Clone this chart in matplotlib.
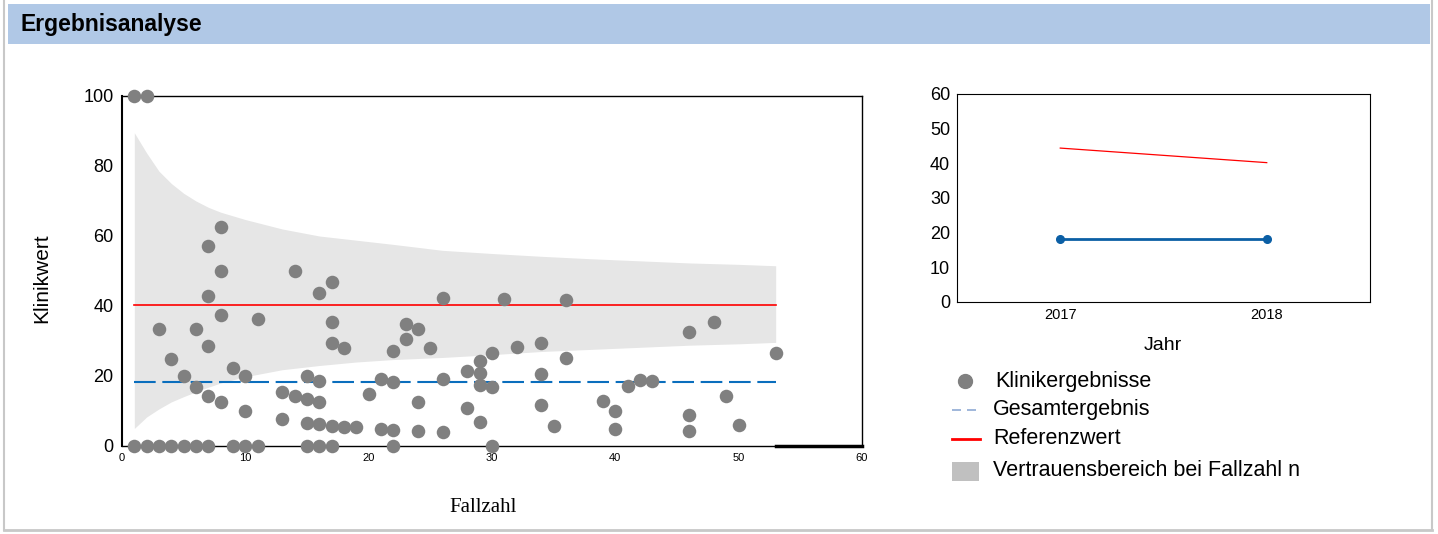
import matplotlib.pyplot as plt
from matplotlib.patches import Rectangle
from matplotlib.lines import Line2D

plt.rcParams['font.family'] = ['Liberation Sans', 'DejaVu Sans']

# Klinikergebnisse (Fallzahl, Klinikwert)
fallzahl = [1, 1, 2, 2, 3, 3, 4, 4, 5, 5, 6, 6, 6,
            7, 7, 7, 7, 7, 8, 8, 8, 8, 9, 9, 10, 10, 10, 11, 11,
            13, 13, 14, 14, 15, 15, 15, 15, 16, 16, 16, 16, 16,
            17, 17, 17, 17, 17, 18, 18, 19, 20, 21, 21, 22, 22, 22, 22,
            23, 23, 24, 24, 24, 25, 26, 26, 26, 28, 28, 29, 29, 29, 29,
            30, 30, 30, 31, 32, 34, 34, 34, 35, 36, 36, 39, 40, 40, 41,
            42, 43, 46, 46, 46, 48, 49, 50, 53]
klinikwert = [100, 0, 100, 0, 33.3, 0, 25.0, 0, 20.1, 0, 33.3, 16.8, 0,
              57.1, 42.9, 28.7, 14.4, 0, 62.5, 50.0, 37.4, 12.6, 22.4, 0, 20.1, 10.1, 0, 36.4, 0,
              15.3, 7.7, 50.0, 14.3, 20.1, 13.4, 6.7, 0, 43.8, 18.7, 12.6, 6.2, 0,
              47.0, 35.3, 29.4, 5.8, 0, 27.9, 5.5, 5.3, 15.0, 19.1, 4.8, 27.2, 18.2, 4.5, 0,
              34.8, 30.5, 33.3, 12.5, 4.3, 28.1, 42.3, 19.2, 3.9, 21.5, 10.8, 24.4, 20.8, 17.3, 7.0,
              26.7, 16.8, 0, 41.9, 28.2, 29.5, 20.6, 11.8, 5.8, 41.7, 25.1, 12.8, 10.0, 5.0, 17.1,
              19.0, 18.6, 32.7, 8.8, 4.4, 35.5, 14.4, 6.1, 26.5]

# Vertrauensbereich bei Fallzahl n
band_n = [1, 2, 3, 4, 5, 6, 7, 8, 10, 13, 16, 19, 22, 26, 30, 34, 38, 42, 46, 50, 53]
band_unten = [5.0, 8.3, 10.6, 12.6, 14.1, 15.5, 16.8, 18.0, 19.8, 21.8, 23.0,
              24.0, 24.7, 25.3, 26.1, 27.0, 27.6, 28.2, 28.8, 29.2, 29.6]
band_oben = [89.5, 83.7, 78.5, 75.0, 72.2, 70.0, 68.2, 66.8, 64.7, 62.0, 60.0,
             58.8, 57.6, 55.9, 55.0, 54.2, 53.5, 52.9, 52.3, 51.9, 51.5]

gesamtergebnis = 18.3
referenzwert = 40.3

# Verlauf
jahre = [2017, 2018]
gesamt_jahr = [18.2, 18.2]
referenz_jahr = [44.4, 40.2]

W, H = 1438, 534
fig = plt.figure(figsize=(W / 100, H / 100), dpi=100)


def fx(px):
    return px / W


def fy(py):
    return 1 - py / H


# Rahmen und Kopfzeile
rand = '#c8c8c8'
fig.add_artist(Line2D([fx(4), fx(4)], [fy(0), fy(530)], color=rand, lw=1.5))
fig.add_artist(Line2D([fx(1432), fx(1432)], [fy(0), fy(530)], color=rand, lw=1.5))
fig.add_artist(Line2D([fx(4), fx(1432)], [fy(530), fy(530)], color=rand, lw=2))
fig.add_artist(Rectangle((fx(8), fy(44)), fx(1430) - fx(8), fy(4) - fy(44),
                         color='#b0c8e6', lw=0))
fig.text(fx(20), fy(25), 'Ergebnisanalyse', fontsize=16.5, fontweight='bold', va='center')

# Streudiagramm
ax = fig.add_axes([fx(122), fy(446), fx(862) - fx(122), fy(96) - fy(446)])
ax.fill_between(band_n, band_unten, band_oben, color='#e6e6e6', lw=0, zorder=1)
ax.plot([band_n[0], band_n[-1]], [referenzwert, referenzwert], color='#ff0000', lw=1.2, zorder=2)
ax.plot([band_n[0], band_n[-1]], [gesamtergebnis, gesamtergebnis], color='#0a6ebd',
        lw=1.5, dashes=(10.4, 3.2), zorder=2)
ax.scatter(fallzahl, klinikwert, s=95, color='#808080', lw=0, zorder=3, clip_on=False)
ax.plot([band_n[-1], 60], [0, 0], color='black', lw=2.5, zorder=2, clip_on=False)
ax.set_xlim(0, 60)
ax.set_ylim(0, 100)
ax.set_xticks(range(0, 61, 10))
ax.set_yticks(range(0, 101, 20))
ax.tick_params(axis='x', length=0, labelsize=8, pad=5)
ax.tick_params(axis='y', length=0, labelsize=13, pad=6)
for s in ax.spines.values():
    s.set_linewidth(1.0)
ax.spines['left'].set_linewidth(1.5)
fig.text(fx(42), fy(278), 'Klinikwert', fontsize=15, rotation=90, ha='center', va='center')
fig.text(fx(483), fy(508), 'Fallzahl', fontsize=15, family='Liberation Serif',
         ha='center', va='center')

# Verlauf nach Jahr
ax2 = fig.add_axes([fx(957), fy(302), fx(1370) - fx(957), fy(94) - fy(302)])
ax2.plot(jahre, referenz_jahr, color='#ff0000', lw=0.9)
ax2.plot(jahre, gesamt_jahr, color='#0b5fa5', lw=2, marker='o', ms=5.5)
ax2.set_xlim(2016.5, 2018.5)
ax2.set_ylim(0, 60)
ax2.set_xticks(jahre)
ax2.set_yticks(range(0, 61, 10))
ax2.tick_params(axis='x', length=0, labelsize=10.5, pad=4)
ax2.tick_params(axis='y', length=0, labelsize=13, pad=5)
fig.text(fx(1163), fy(345), 'Jahr', fontsize=14, ha='center', va='center')

# Legende
fig.add_artist(Line2D([fx(965)], [fy(381)], marker='o', ms=10, color='#808080', ls='none'))
fig.add_artist(Line2D([fx(952), fx(980)], [fy(410), fy(410)], color='#8faad4', lw=1.2,
                      dashes=(5.4, 3.6)))
fig.add_artist(Line2D([fx(952), fx(980)], [fy(439), fy(439)], color='#ff0000', lw=2))
fig.add_artist(Rectangle((fx(952), fy(481)), fx(979) - fx(952), fy(462) - fy(481),
                         color='#c0c0c0', lw=0))
fig.text(fx(995), fy(381), 'Klinikergebnisse', fontsize=15.5, va='center')
fig.text(fx(993), fy(410), 'Gesamtergebnis', fontsize=15.5, va='center')
fig.text(fx(993), fy(439), 'Referenzwert', fontsize=15.5, va='center')
fig.text(fx(993), fy(470), 'Vertrauensbereich bei Fallzahl n', fontsize=15.5, va='center')

fig.savefig('out.png', dpi=100)
